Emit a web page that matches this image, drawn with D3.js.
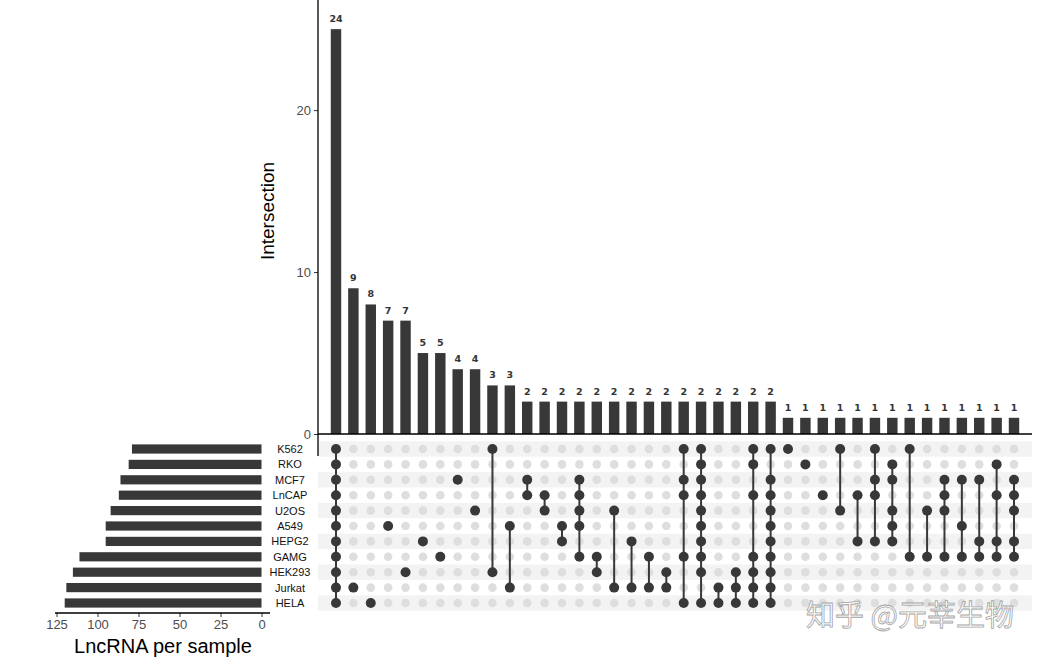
<!DOCTYPE html>
<html><head><meta charset="utf-8">
<script src="https://cdn.jsdelivr.net/npm/d3@7"></script>
<style>body{margin:0;background:#fff}svg{display:block}</style>
</head><body>
<svg id="c" width="1064" height="660"></svg>
<script>
const sets = ["K562","RKO","MCF7","LnCAP","U2OS","A549","HEPG2","GAMG","HEK293","Jurkat","HELA"];
const setSizes = [79,81,86,87,92,95,95,111,115,119,120];
// bar heights as drawn in the picture (first bar reaches 25 although labelled 24)
const barHeights = [25,9,8,7,7,5,5,4,4,3,3,2,2,2,2,2,2,2,2,2,2,2,2,2,2,2,1,1,1,1,1,1,1,1,1,1,1,1,1,1];
const barLabels = ["24","9","8","7","7","5","5","4","4","3","3","2","2","2","2","2","2","2","2","2","2","2","2","2","2","2","1","1","1","1","1","1","1","1","1","1","1","1","1","1"];
const intersectionMembers = [
  ["K562","RKO","MCF7","LnCAP","U2OS","A549","HEPG2","GAMG","HEK293","Jurkat","HELA"],
  ["Jurkat"],["HELA"],["A549"],["HEK293"],["HEPG2"],["GAMG"],["MCF7"],["U2OS"],
  ["K562","HEK293"],["A549","Jurkat"],["MCF7","LnCAP"],["LnCAP","U2OS"],["A549","HEPG2"],
  ["MCF7","LnCAP","U2OS","A549","GAMG"],["GAMG","HEK293"],["U2OS","Jurkat"],["HEPG2","Jurkat"],
  ["GAMG","Jurkat"],["HEK293","Jurkat"],["K562","MCF7","LnCAP","GAMG","HELA"],
  ["K562","RKO","MCF7","LnCAP","U2OS","A549","HEPG2","GAMG","HEK293","HELA"],
  ["Jurkat","HELA"],["HEK293","Jurkat","HELA"],["K562","RKO","LnCAP","GAMG","HEK293","Jurkat","HELA"],
  ["K562","MCF7","LnCAP","U2OS","A549","HEPG2","GAMG","HEK293","Jurkat","HELA"],
  ["K562"],["RKO"],["LnCAP"],["K562","U2OS"],["LnCAP","HEPG2"],["K562","MCF7","LnCAP","HEPG2"],
  ["RKO","MCF7","U2OS","A549","HEPG2"],["K562","GAMG"],["U2OS","GAMG"],["MCF7","LnCAP","U2OS","GAMG"],
  ["MCF7","A549","GAMG"],["MCF7","HEPG2","GAMG"],["RKO","LnCAP","HEPG2","GAMG"],
  ["MCF7","LnCAP","U2OS","HEPG2","GAMG"]
];
const topTicks = [0,10,20];
const leftTicks = [125,100,75,50,25,0];

const svg = d3.select("#c");
const dark = "#383838";
const cols = d3.range(barHeights.length);
const x = d3.scaleBand().domain(cols).range([327.3, 1022.7]).paddingInner(0.4).paddingOuter(0.2);
const y = d3.scaleLinear().domain([0, 26.8]).range([434, 0]);
const row = d3.scaleBand().domain(sets).range([441.3, 610.7]);
const xl = d3.scaleLinear().domain([0, 125]).range([261.5, 56.5]);

// stripes
svg.append("g").selectAll("rect").data(sets.filter((s,i)=>i%2===0)).join("rect")
  .attr("x", 318).attr("width", 714).attr("y", d=>row(d)).attr("height", row.bandwidth())
  .attr("fill", "#f3f3f3");

// top bars
svg.append("g").selectAll("rect").data(cols).join("rect")
  .attr("x", d=>x(d)).attr("width", x.bandwidth())
  .attr("y", d=>y(barHeights[d])).attr("height", d=>y(0)-y(barHeights[d]))
  .attr("fill", dark);
svg.append("g").selectAll("text").data(cols).join("text")
  .attr("x", d=>x(d)+x.bandwidth()/2).attr("y", d=>y(barHeights[d])-7)
  .attr("text-anchor","middle").attr("font-family","DejaVu Sans, sans-serif")
  .attr("font-weight","bold").attr("font-size",9.5).attr("fill","#333")
  .text(d=>barLabels[d]);

// top axis
const ya = svg.append("g").attr("transform","translate(318,0)")
  .call(d3.axisLeft(y).tickValues(topTicks).tickSize(4).tickPadding(3));
ya.select(".domain").remove();
ya.selectAll("text").attr("font-family","Liberation Sans, Arial, sans-serif").attr("font-size",13).attr("fill","#4d4d4d");
ya.selectAll("line").attr("stroke","#333");
svg.append("line").attr("x1",318).attr("x2",318).attr("y1",0).attr("y2",456).attr("stroke","#000").attr("stroke-width",1.3);
svg.append("line").attr("x1",318).attr("x2",1032).attr("y1",y(0)).attr("y2",y(0)).attr("stroke","#000").attr("stroke-width",1.3);
svg.append("text").attr("transform","translate(274,211) rotate(-90)")
  .attr("text-anchor","middle").attr("font-family","Liberation Sans, Arial, sans-serif")
  .attr("font-size",19).attr("fill","#000").text("Intersection");

// matrix
const cy = s => row(s) + row.bandwidth()/2;
const cx = c => x(c) + x.bandwidth()/2;
const mg = svg.append("g");
cols.forEach(c=>{
  sets.forEach(s=>{
    if (!intersectionMembers[c].includes(s))
      mg.append("circle").attr("cx",cx(c)).attr("cy",cy(s)).attr("r",4.3).attr("fill","#dedede");
  });
});
cols.forEach(c=>{
  const m = intersectionMembers[c];
  const ys = m.map(cy);
  if (m.length>1) mg.append("line").attr("x1",cx(c)).attr("x2",cx(c))
      .attr("y1",d3.min(ys)).attr("y2",d3.max(ys)).attr("stroke",dark).attr("stroke-width",2);
  m.forEach(s=>mg.append("circle").attr("cx",cx(c)).attr("cy",cy(s)).attr("r",5).attr("fill",dark));
});

// set labels
svg.append("g").selectAll("text").data(sets).join("text")
  .attr("x",290).attr("y",d=>cy(d)+4).attr("text-anchor","middle")
  .attr("font-family","Liberation Sans, Arial, sans-serif").attr("font-size",11).attr("fill","#111")
  .text(d=>d);

// left bars
svg.append("g").selectAll("rect").data(sets).join("rect")
  .attr("x",(d,i)=>xl(setSizes[i])).attr("width",(d,i)=>xl(0)-xl(setSizes[i]))
  .attr("y",d=>cy(d)-4.6).attr("height",9.2).attr("fill",dark);
const xa = svg.append("g").attr("transform","translate(0,613)")
  .call(d3.axisBottom(xl).tickValues(leftTicks).tickSize(4).tickPadding(3));
xa.select(".domain").remove();
xa.selectAll("text").attr("font-family","Liberation Sans, Arial, sans-serif").attr("font-size",13).attr("fill","#4d4d4d");
xa.selectAll("line").attr("stroke","#333");
svg.append("line").attr("x1",55).attr("x2",270).attr("y1",613).attr("y2",613).attr("stroke","#000").attr("stroke-width",1.3);
svg.append("text").attr("x",163).attr("y",653).attr("text-anchor","middle")
  .attr("font-family","Liberation Sans, Arial, sans-serif").attr("font-size",20).attr("fill","#000")
  .text("LncRNA per sample");

// watermark
svg.append("text").attr("x",806).attr("y",626)
  .attr("font-family","Noto Sans CJK SC, sans-serif").attr("font-size",29)
  .attr("fill","#fff").attr("stroke","#9a9a9a").attr("stroke-width",0.8).attr("opacity",0.9)
  .text("知乎 @元莘生物");
</script>
</body></html>
